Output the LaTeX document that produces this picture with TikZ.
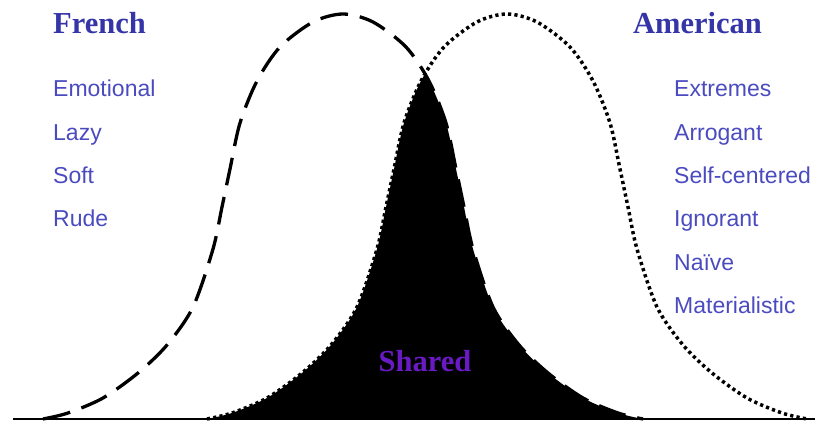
\documentclass[tikz,border=0pt]{standalone}
\usepackage{fontspec}
\setmainfont{Liberation Sans}
\newfontfamily\titlefont{Liberation Serif}
\usepackage{tikz}
\usetikzlibrary{positioning}
\definecolor{titleblue}{HTML}{3535A8}
\definecolor{itemblue}{HTML}{4B4BC0}
\definecolor{sharedpurple}{HTML}{6A1AC4}

% bell curve centred at x = #1
\newcommand{\bellpath}[1]{plot[smooth, tension=0.5] coordinates {
  ({#1-300},4) ({#1-275},10) ({#1-240},25) ({#1-205},50) ({#1-176},78)
  ({#1-150},116) ({#1-130},174) ({#1-121},216) ({#1-113},254) ({#1-103},300)
  ({#1-86},342) ({#1-63},376) ({#1-30},401) (#1,409)
  ({#1+30},401) ({#1+63},376) ({#1+86},342) ({#1+103},300) ({#1+113},254)
  ({#1+121},216) ({#1+130},174) ({#1+150},116) ({#1+176},78) ({#1+205},50)
  ({#1+240},25) ({#1+275},10) ({#1+300},4)}}

\begin{document}
\begin{tikzpicture}[
    x=1pt, y=1pt,
    title/.style = {anchor=base west, inner sep=0pt, text=titleblue,
                    font={\titlefont\bfseries\fontsize{30.5}{34}\selectfont}},
    item/.style = {anchor=base west, inner sep=0pt, text=itemblue,
                   font={\fontsize{23}{26}\selectfont}},
    sharedlabel/.style = {anchor=base, inner sep=0pt, text=sharedpurple,
                          font={\titlefont\bfseries\fontsize{30.5}{34}\selectfont}},
    frenchline/.style = {line width=3.3pt, dash pattern=on 28pt off 12pt},
    americanline/.style = {line width=3.5pt, dash pattern=on 3.2pt off 3.2pt},
    axisline/.style = {line width=2pt}
  ]
  \useasboundingbox (0,0) rectangle (823,423);

  % overlap of the two curves
  \begin{scope}
    \clip \bellpath{507} -- cycle;
    \fill \bellpath{343} -- cycle;
  \end{scope}

  \draw[frenchline] \bellpath{343};
  \draw[americanline] \bellpath{507};

  \coordinate (axisL) at (13,4);
  \coordinate (axisR) at (815,4);
  \draw[axisline] (axisL) -- (axisR);

  % left column
  \node[title] (french) at (53,389) {French};
  \node[item] (emotional) at (53,326) {Emotional};
  \node[item] (lazy) at ([yshift=-43.3pt]emotional.base west) {Lazy};
  \node[item] (soft) at ([yshift=-43.3pt]lazy.base west) {Soft};
  \node[item] (rude) at ([yshift=-43.3pt]soft.base west) {Rude};

  % right column
  \node[title] (american) at (633,389) {American};
  \node[item] (extremes) at (674,326) {Extremes};
  \node[item] (arrogant) at ([yshift=-43.3pt]extremes.base west) {Arrogant};
  \node[item] (selfcentered) at ([yshift=-43.3pt]arrogant.base west) {Self-centered};
  \node[item] (ignorant) at ([yshift=-43.3pt]selfcentered.base west) {Ignorant};
  \node[item] (naive) at ([yshift=-43.3pt]ignorant.base west) {Naïve};
  \node[item] (materialistic) at ([yshift=-43.3pt]naive.base west) {Materialistic};

  \node[sharedlabel] (shared) at (425,51) {Shared};
\end{tikzpicture}
\end{document}
